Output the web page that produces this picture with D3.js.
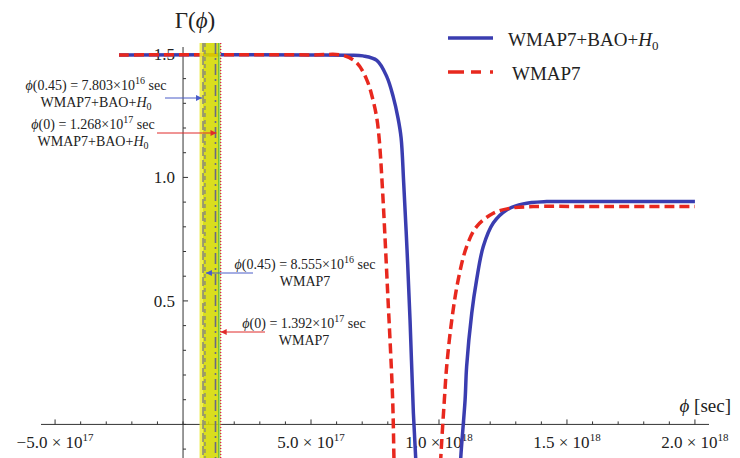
<!DOCTYPE html>
<html>
<head>
<meta charset="utf-8">
<script src="https://cdn.jsdelivr.net/npm/d3@7/dist/d3.min.js"></script>
<style>
  html, body { margin: 0; padding: 0; background: #fff; }
  svg { display: block; font-family: "Liberation Serif", "Times New Roman", serif; }
</style>
</head>
<body>
<svg id="chart" width="740" height="458"></svg>
<script>
// Γ(φ) for the two parameter sets, φ in seconds
const blueLeftPhi   = [-2.5e17, 5.0e17, 6.5e17, 7.03e17, 7.57e17, 7.96e17, 8.21e17, 8.40e17, 8.52e17, 8.62e17, 8.75e17, 8.87e17, 9.00e17, 9.09e17, 9.12e17];
const blueLeftGamma = [1.496, 1.496, 1.495, 1.492, 1.474, 1.408, 1.327, 1.240, 1.160, 0.980, 0.71, 0.42, 0.045, -0.136, -0.22];
const blueRightPhi   = [1.082e18, 1.085e18, 1.102e18, 1.108e18, 1.128e18, 1.147e18, 1.173e18, 1.212e18, 1.264e18, 1.329e18, 1.421e18, 1.6e18, 2.0e18];
const blueRightGamma = [-0.22, -0.136, 0.099, 0.234, 0.450, 0.585, 0.720, 0.815, 0.868, 0.893, 0.902, 0.902, 0.902];
const redLeftPhi   = [-2.5e17, 5.0e17, 6.25e17, 6.79e17, 7.18e17, 7.42e17, 7.57e17, 7.66e17, 7.78e17, 7.99e17, 8.19e17, 8.24e17, 8.26e17];
const redLeftGamma = [1.496, 1.496, 1.494, 1.464, 1.395, 1.314, 1.240, 1.160, 0.975, 0.545, 0.099, -0.136, -0.22];
const redRightPhi   = [1.004e18, 1.007e18, 1.021e18, 1.030e18, 1.050e18, 1.075e18, 1.108e18, 1.147e18, 1.212e18, 1.277e18, 1.368e18, 1.6e18, 2.0e18];
const redRightGamma = [-0.22, -0.136, 0.099, 0.234, 0.423, 0.585, 0.720, 0.801, 0.855, 0.875, 0.882, 0.882, 0.882];

// Marked field values (sec)
const phi045Joint = 7.803e16, phi0Joint = 1.268e17;
const phi045Wmap  = 8.555e16, phi0Wmap  = 1.392e17;
const bandEdges = [6.45e16, 1.47e17];

// Axis ticks
const xMajorTicks = [-5e17, 5e17, 1e18, 1.5e18, 2e18];
const xMajorMantissa = ["\u22125.0", "5.0", "1.0", "1.5", "2.0"];
const xMajorExponent = ["17", "17", "18", "18", "18"];
const yMajorTicks = [0.5, 1.0, 1.5];
const yMajorLabels = ["0.5", "1.0", "1.5"];

const legendLabels = ["WMAP7+BAO+", "WMAP7"];

const svg = d3.select("#chart");
const x = d3.scaleLinear().domain([-5.55e17, 2.055e18]).range([41, 709]);
const y = d3.scaleLinear().domain([-0.136, 1.528]).range([458, 47]);

const BLUE = "#3a3db0", RED = "#e8281e";

svg.append("defs").append("clipPath").attr("id", "plotClip")
  .append("rect").attr("x", 0).attr("y", 40).attr("width", 740).attr("height", 418);

const defs = svg.select("defs");
[["arrowBlue", "#4a5cc8"], ["arrowRed", "#e02a2a"]].forEach(([id, c]) => {
  defs.append("marker").attr("id", id).attr("viewBox", "0 0 10 10")
    .attr("refX", 10).attr("refY", 5).attr("markerWidth", 7).attr("markerHeight", 6)
    .attr("markerUnits", "userSpaceOnUse").attr("orient", "auto")
    .append("path").attr("d", "M0,0 L10,5 L0,10 z").attr("fill", c);
});

// Axes
const axisG = svg.append("g").attr("stroke", "#333").attr("stroke-width", 1);
axisG.append("line").attr("x1", 41).attr("x2", 709).attr("y1", y(0)).attr("y2", y(0));
axisG.append("line").attr("x1", x(0)).attr("x2", x(0)).attr("y1", 47).attr("y2", 458);

const xMinor = d3.range(-5, 21).map(k => k * 1e17);
axisG.selectAll(".xt").data(xMinor).join("line")
  .attr("x1", d => x(d)).attr("x2", d => x(d))
  .attr("y1", y(0)).attr("y2", d => y(0) - (Math.abs(d) % 5e17 === 0 && d !== 0 ? 5 : 3));
const yMinor = d3.range(-1, 16).map(k => k / 10);
axisG.selectAll(".yt").data(yMinor).join("line")
  .attr("x1", x(0)).attr("x2", (d, i) => x(0) + ((i - 1) % 5 === 0 && i !== 1 ? 5 : 3))
  .attr("y1", d => y(d)).attr("y2", d => y(d));

const xl = svg.append("g").attr("font-size", 17).attr("fill", "#222").attr("text-anchor", "middle");
xMajorTicks.forEach((t, i) => {
  const tx = xl.append("text").attr("x", x(t)).attr("y", 448);
  tx.append("tspan").text(xMajorMantissa[i] + " \u00d7 10");
  tx.append("tspan").attr("dy", -7).attr("font-size", 11).text(xMajorExponent[i]);
});
svg.append("g").attr("font-size", 17).attr("fill", "#222").attr("text-anchor", "end")
  .selectAll("text").data(yMajorTicks).join("text")
  .attr("x", 175).attr("y", d => y(d)).attr("dy", "0.35em")
  .text((d, i) => yMajorLabels[i]);

// Axis titles
const gt = svg.append("text").attr("x", 195).attr("y", 28).attr("font-size", 23)
  .attr("text-anchor", "middle").attr("fill", "#222");
gt.append("tspan").text("\u0393(");
gt.append("tspan").attr("font-style", "italic").text("\u03d5");
gt.append("tspan").text(")");
const xt = svg.append("text").attr("x", 731).attr("y", 412).attr("font-size", 19)
  .attr("text-anchor", "end").attr("fill", "#222");
xt.append("tspan").attr("font-style", "italic").text("\u03d5");
xt.append("tspan").text(" [sec]");

// Curves
const line = d3.line().x(d => x(d[0])).y(d => y(d[1])).curve(d3.curveCatmullRom.alpha(0.5));
const zip = (a, b) => a.map((v, i) => [v, b[i]]);
const curves = svg.append("g").attr("clip-path", "url(#plotClip)").attr("fill", "none")
  .attr("stroke-width", 3.5).attr("stroke-linecap", "butt");
[zip(blueLeftPhi, blueLeftGamma), zip(blueRightPhi, blueRightGamma)].forEach(d =>
  curves.append("path").attr("d", line(d)).attr("stroke", BLUE));
[zip(redLeftPhi, redLeftGamma), zip(redRightPhi, redRightGamma)].forEach(d =>
  curves.append("path").attr("d", line(d)).attr("stroke", RED).attr("stroke-dasharray", "10,5"));

// Shaded band of the marked field values
const band = svg.append("g").attr("opacity", 0.88);
band.append("rect").attr("x", x(bandEdges[0])).attr("width", x(bandEdges[1]) - x(bandEdges[0]))
  .attr("y", 43).attr("height", 415).attr("fill", "#ecec3a");
band.append("rect").attr("x", x(phi045Joint)).attr("width", x(phi0Wmap) - x(phi045Joint))
  .attr("y", 43).attr("height", 415).attr("fill", "#d6da00");
band.append("rect").attr("x", x(phi0Wmap)).attr("width", x(bandEdges[1]) - x(phi0Wmap))
  .attr("y", 43).attr("height", 415).attr("fill", "#b4e070");

const vline = (v, color, dash, w) => svg.append("line")
  .attr("x1", x(v)).attr("x2", x(v)).attr("y1", 43).attr("y2", 458)
  .attr("stroke", color).attr("stroke-width", w).attr("stroke-dasharray", dash);
vline(phi045Joint, "#8a8a7a", "9,4", 1.6);
vline(phi045Wmap, "#8a8a7a", "4,3", 1.4);
vline(phi0Joint, "#6a6a86", "11,4,2,4", 1.6);
vline(phi0Wmap, "#6cbf3a", null, 1.2);
vline(bandEdges[1], "#e0204a", "1,2", 1.4);

// Annotations
const arrow = (x1, x2, yy, color, marker) => svg.append("line")
  .attr("x1", x1).attr("x2", x2).attr("y1", yy).attr("y2", yy)
  .attr("stroke", color).attr("stroke-width", 1).attr("marker-end", `url(#${marker})`);
arrow(165, x(phi045Joint) - 1, 98, "#4a5cc8", "arrowBlue");
arrow(157, x(phi0Joint) + 1, 133, "#e02a2a", "arrowRed");
arrow(253, x(phi045Wmap) + 1, 273, "#4a5cc8", "arrowBlue");
arrow(265, x(phi0Wmap) + 2, 332, "#e02a2a", "arrowRed");

const fmtSci = (v) => {
  const e = Math.floor(Math.log10(v));
  return [(v / Math.pow(10, e)).toFixed(3), String(e)];
};
const annot = (cx, yy, arg, v, dataset) => {
  const g = svg.append("g").attr("font-size", 14).attr("fill", "#222").attr("text-anchor", "middle");
  const [m, e] = fmtSci(v);
  const t1 = g.append("text").attr("x", cx).attr("y", yy);
  t1.append("tspan").attr("font-style", "italic").text("\u03d5");
  t1.append("tspan").text(`(${arg}) = ${m}\u00d710`);
  t1.append("tspan").attr("dy", -6).attr("font-size", 10).text(e);
  t1.append("tspan").attr("dy", 6).text(" sec");
  const t2 = g.append("text").attr("x", cx).attr("y", yy + 17);
  if (dataset === 0) {
    t2.append("tspan").text(legendLabels[0]);
    t2.append("tspan").attr("font-style", "italic").text("H");
    t2.append("tspan").attr("dy", 3).attr("font-size", 10).text("0");
  } else {
    t2.text(legendLabels[1]);
  }
};
annot(96, 90, "0.45", phi045Joint, 0);
annot(93, 129, "0", phi0Joint, 0);
annot(305, 269, "0.45", phi045Wmap, 1);
annot(304, 328, "0", phi0Wmap, 1);

// Legend
const lg = svg.append("g");
lg.append("line").attr("x1", 448).attr("x2", 493).attr("y1", 38).attr("y2", 38)
  .attr("stroke", BLUE).attr("stroke-width", 3.5);
lg.append("line").attr("x1", 448).attr("x2", 494).attr("y1", 72).attr("y2", 72)
  .attr("stroke", RED).attr("stroke-width", 3.5).attr("stroke-dasharray", "16,7,10,9,3");
const l1 = lg.append("text").attr("x", 508).attr("y", 46).attr("font-size", 19).attr("fill", "#222");
l1.append("tspan").text(legendLabels[0]);
l1.append("tspan").attr("font-style", "italic").text("H");
l1.append("tspan").attr("dy", 4).attr("font-size", 13).text("0");
lg.append("text").attr("x", 512).attr("y", 80).attr("font-size", 19).attr("fill", "#222").text(legendLabels[1]);
</script>
</body>
</html>
